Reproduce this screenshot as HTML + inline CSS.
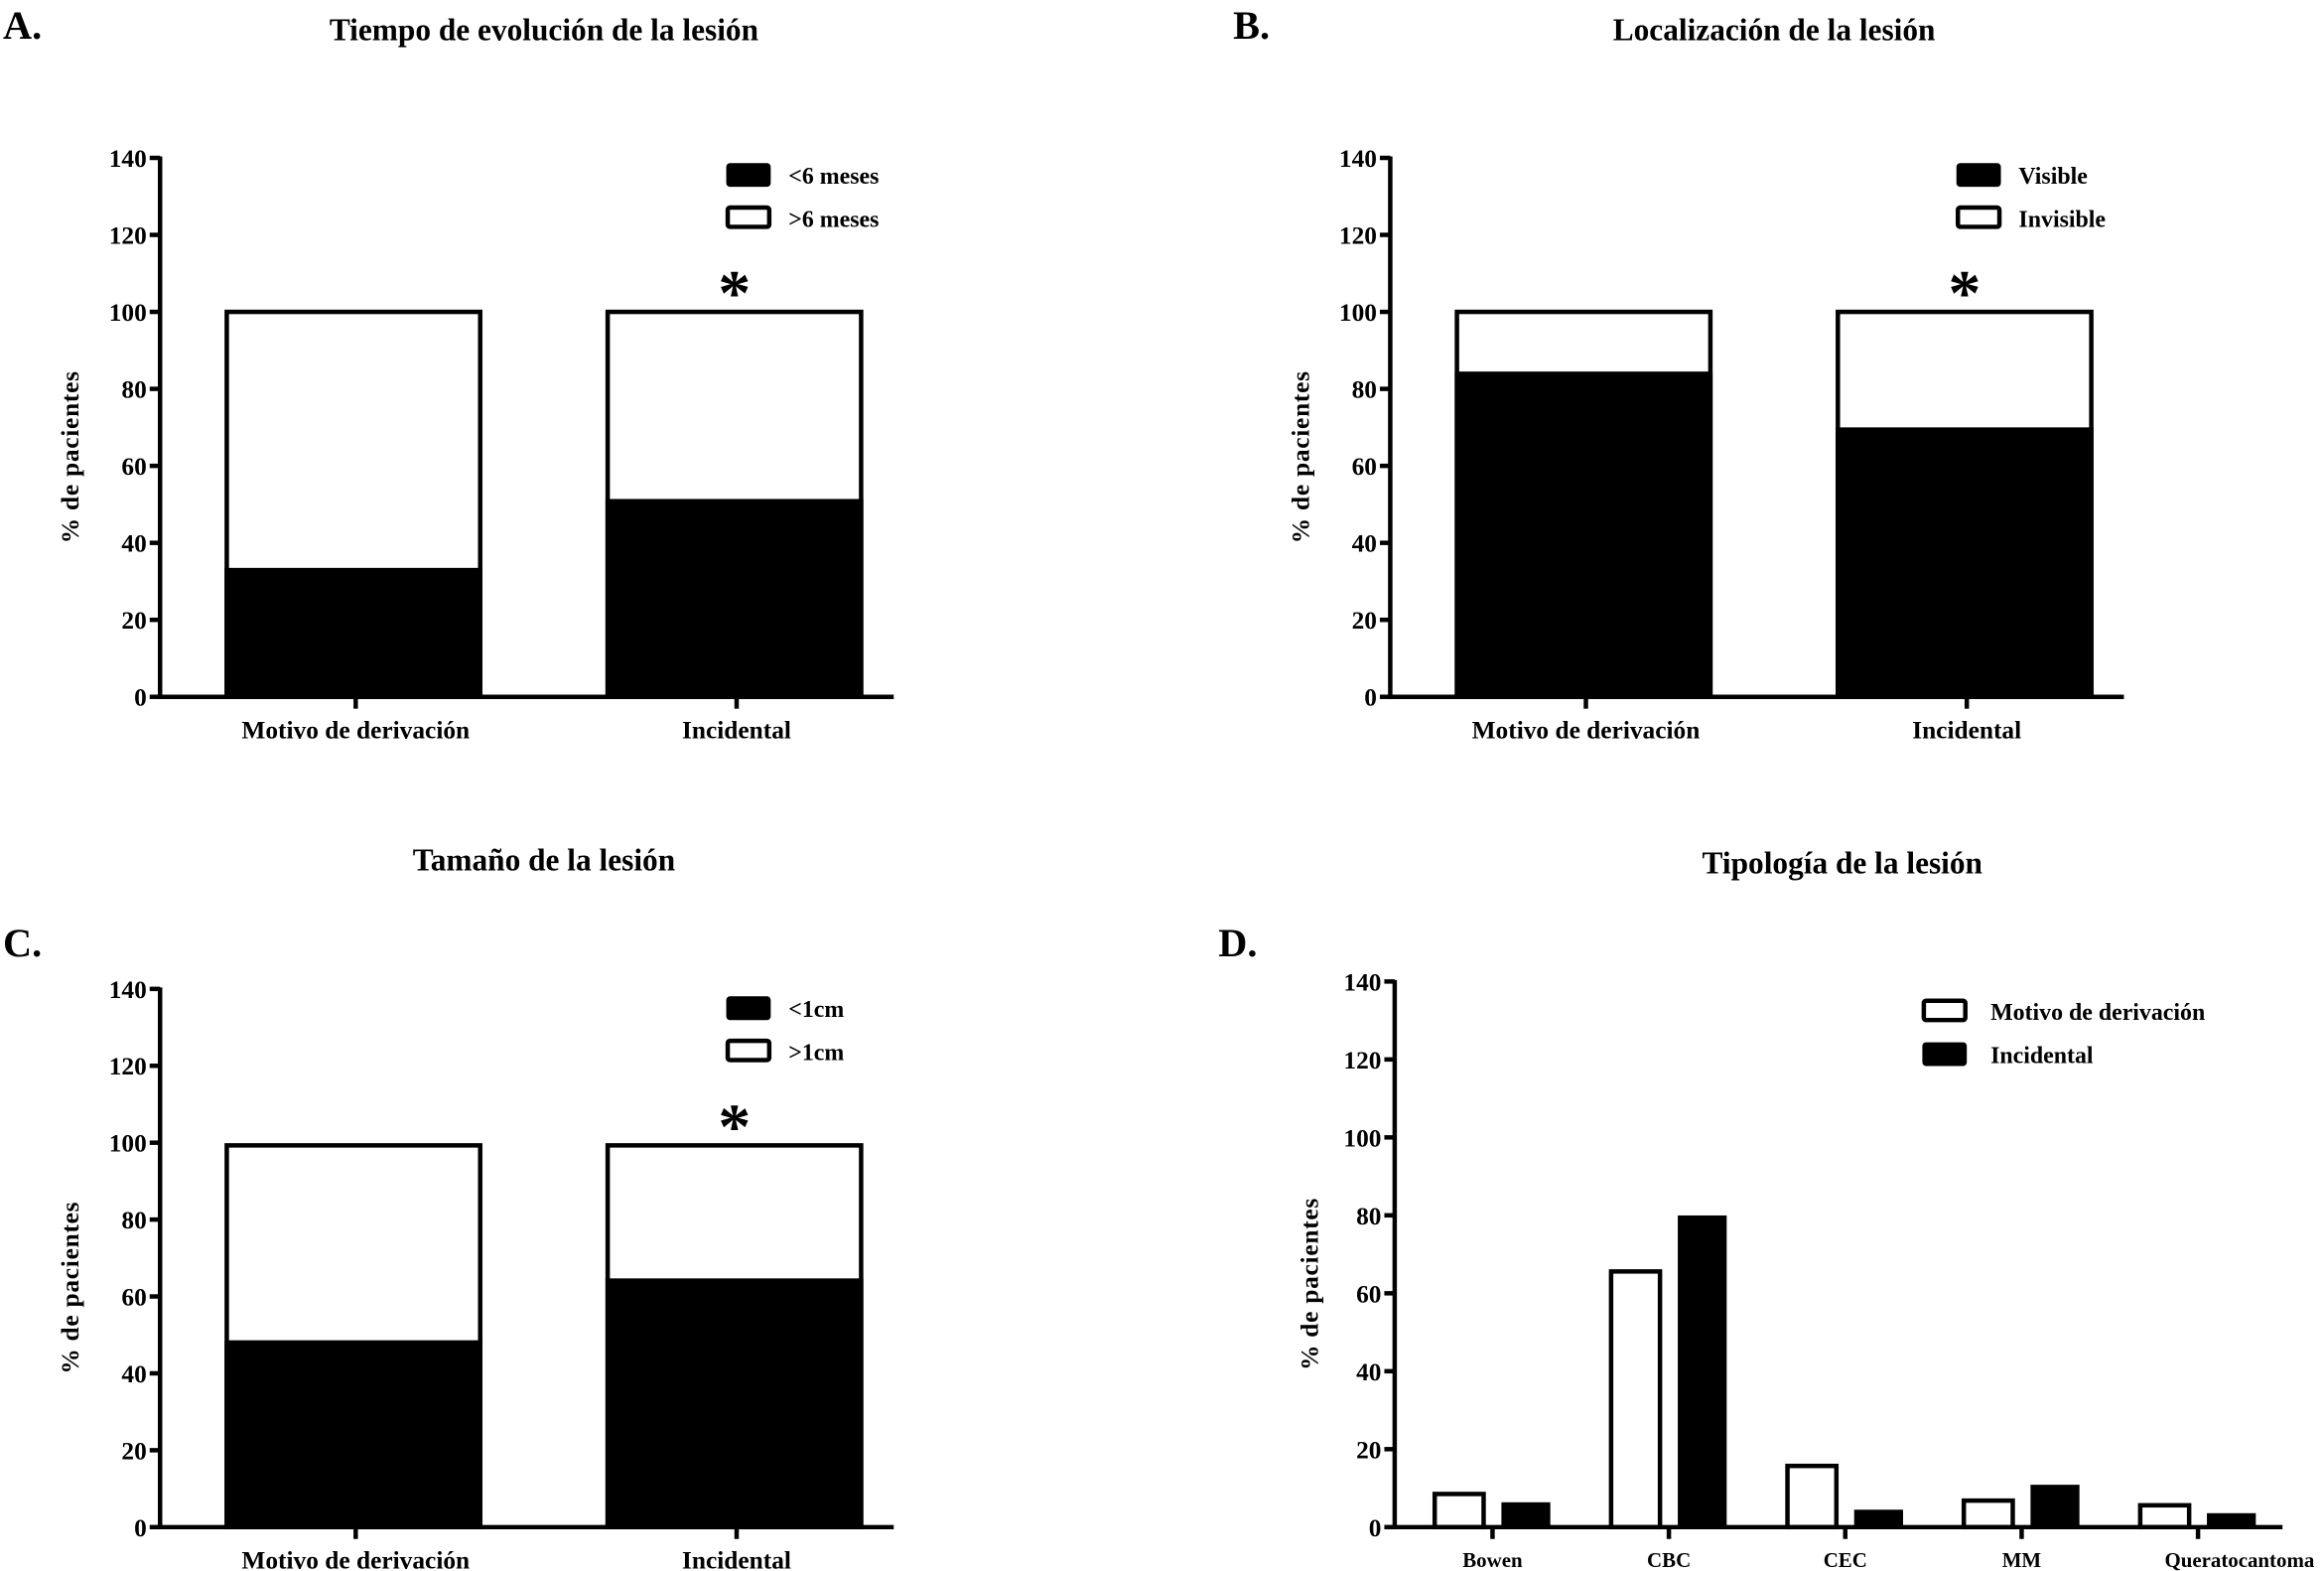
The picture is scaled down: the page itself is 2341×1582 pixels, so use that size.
<!DOCTYPE html>
<html><head><meta charset="utf-8"><style>
html,body{margin:0;padding:0;background:#fff}
svg{display:block}
text{font-family:"Liberation Serif",serif;font-weight:bold;fill:#000}
</style></head><body>
<svg id="fig" width="2341" height="1582" viewBox="0 0 1568 1059.6" preserveAspectRatio="none" xmlns="http://www.w3.org/2000/svg">
<g id="root"></g>
</svg>
<script>
// ---- data ----
const yTicks = [0,20,40,60,80,100,120,140];
const stackCats = ["Motivo de derivación","Incidental"];
const aBlack = [33.5, 51.4];
const aTotal = [100, 100];
const bBlack = [84.5, 70.0];
const bTotal = [100, 100];
const cBlack = [48.6, 64.7];
const cTotal = [99.3, 99.3];
const dCats = ["Bowen","CBC","CEC","MM","Queratocantoma"];
const dMotivo = [8.5, 65.6, 15.7, 6.8, 5.6];
const dIncidental = [5.8, 79.4, 3.9, 10.3, 3.0];

const NS="http://www.w3.org/2000/svg";
const root=document.getElementById('root');
function mk(tag,attrs,parent){const e=document.createElementNS(NS,tag);for(const k in attrs)e.setAttribute(k,attrs[k]);(parent||root).appendChild(e);return e;}
function txt(s,x,y,size,anchor,parent,extra){const t=mk('text',Object.assign({x:x,y:y,'font-size':size,'text-anchor':anchor||'start'},extra||{}),parent);t.textContent=s;return t;}

function axes(g,ax,y0,y140,xEnd,ticksX,cats,catSize,labY,yTitleX){
  const ys=v=>y0-(y0-y140)*v/140;
  const yl=mk('line',{x1:ax,y1:y140-1,x2:ax,y2:y0+1.5,stroke:'#000','stroke-width':3},g);
  
  
  const xl=mk('line',{x1:ax-1.5,y1:y0,x2:xEnd,y2:y0,stroke:'#000','stroke-width':3},g);
  
  
  yTicks.forEach(v=>{
    const tk=mk('line',{x1:ax-7,y1:ys(v),x2:ax,y2:ys(v),stroke:'#000','stroke-width':3},g);
    
    
    const t=txt(String(v),ax-9,ys(v)+6,17,'end',g);
    
    
  });
  ticksX.forEach((x,i)=>{
    const tk=mk('line',{x1:x,y1:y0,x2:x,y2:y0+8,stroke:'#000','stroke-width':3},g);
    
    
    let lx=x;
    if(i===cats.length-1 && cats[i]==="Queratocantoma") lx=x+28;
    const t=txt(cats[i],lx,labY,catSize,'middle',g);
    
    
  });
  const yt=txt('% de pacientes',0,0,17,'middle',g,{transform:`translate(${yTitleX},${(y0+y140)/2+20}) rotate(-90)`,'letter-spacing':'0.5'});
  
  
  return ys;
}

function stacked(name,ax,y0,y140,black,total,labels,title,panel,panelY,titleY,legY){
  const g=mk('g',{});
  
  
  const ys=axes(g,ax,y0,y140,ax+495,[ax+132,ax+389],stackCats,17,y0+28,ax-55);
  const lefts=[ax+45,ax+302]; const w=171;
  total.forEach((tv,i)=>{
    const wb=mk('rect',{x:lefts[i],y:ys(tv),width:w,height:y0-ys(tv),fill:'#fff',stroke:'#000','stroke-width':3},g);
    
    
    const bb=mk('rect',{x:lefts[i]-1.5,y:ys(black[i]),width:w+3,height:y0-ys(black[i]),fill:'#000'},g);
    
    
  });
  const st=txt('*',lefts[1]+w/2,ys(total[1])+2,44,'middle',g);
  
  
  const lx=ax+383;
  const l1=mk('rect',{x:lx,y:legY,width:28,height:14,fill:'#000',stroke:'#000','stroke-width':2,rx:1.5},g);
  
  
  const l2=mk('rect',{x:lx,y:legY+29,width:28,height:13,fill:'#fff',stroke:'#000','stroke-width':3,rx:1.5},g);
  
  
  const t1=txt(labels[0],lx+41,legY+13,16,'start',g);
  
  
  const t2=txt(labels[1],lx+41,legY+42,16,'start',g);
  
  
  const tt=txt(title,ax+259,titleY,21,'middle',g);
  
  
  const pl=txt(panel,ax-106,panelY,27,'start',g);
  
  
}

stacked('panel-a',108,470,106.5,aBlack,aTotal,['<6 meses','>6 meses'],'Tiempo de evolución de la lesión','A.',26,27,111);
stacked('panel-b',938,470,106.5,bBlack,bTotal,['Visible','Invisible'],'Localización de la lesión','B.',26,27,111);
stacked('panel-c',108,1030,667,cBlack,cTotal,['<1cm','>1cm'],'Tamaño de la lesión','C.',645,587,673);

// ---- panel D ----
(function(){
  const g=mk('g',{});
  
  
  const ax=941,y0=1030,y140=662;
  const ticksX=dCats.map((c,i)=>1007+i*119);
  const ys=axes(g,ax,y0,y140,1540,ticksX,dCats,14,y0+27,ax-52);
  const bw=33;
  dCats.forEach((c,i)=>{
    const x=ticksX[i];
    const wb=mk('rect',{x:x-39,y:ys(dMotivo[i]),width:bw,height:y0-ys(dMotivo[i]),fill:'#fff',stroke:'#000','stroke-width':3},g);
    
    
    const bb=mk('rect',{x:x+6,y:ys(dIncidental[i])-1.5,width:bw,height:y0-ys(dIncidental[i])+1.5,fill:'#000'},g);
    
    
  });
  const lx=1298;
  const l1=mk('rect',{x:lx,y:675,width:28,height:13,fill:'#fff',stroke:'#000','stroke-width':3,rx:1.5},g);
  
  
  const l2=mk('rect',{x:lx,y:704,width:28,height:14,fill:'#000',stroke:'#000','stroke-width':2,rx:1.5},g);
  
  
  const t1=txt('Motivo de derivación',lx+45,688,16,'start',g);
  
  
  const t2=txt('Incidental',lx+45,717,16,'start',g);
  
  
  const tt=txt('Tipología de la lesión',1243,589,21,'middle',g);
  
  
  const pl=txt('D.',822,645,27,'start',g);
  
  
})();
</script>
</body></html>
